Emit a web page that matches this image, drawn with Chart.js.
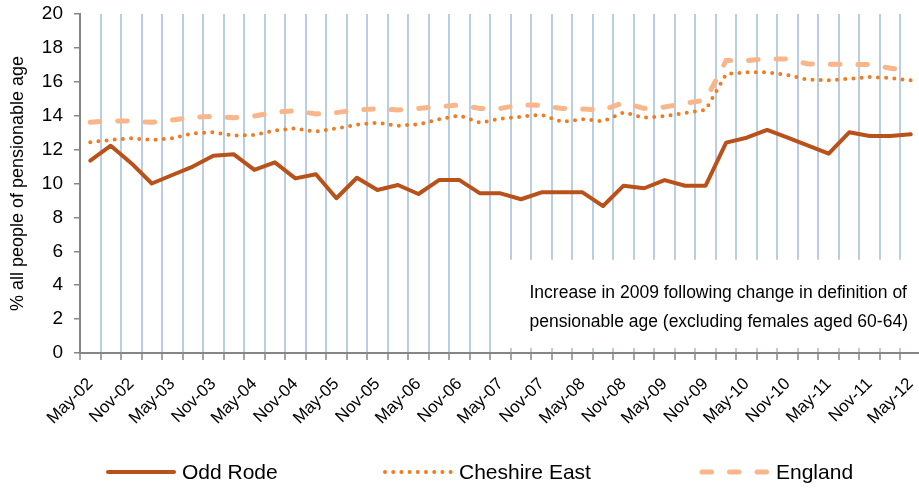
<!DOCTYPE html>
<html>
<head>
<meta charset="utf-8">
<title>Pensionable age – Odd Rode, Cheshire East, England</title>
<script src="https://cdn.jsdelivr.net/npm/chart.js@4/dist/chart.umd.min.js"></script>
<style>
  html, body { margin: 0; padding: 0; background: #fff; overflow: hidden; }
  #wrap { width: 929px; height: 488px; }
</style>
</head>
<body>
<div id="wrap"><canvas id="chart" width="929" height="488"></canvas></div>
<script>
// Quarterly series, May-02 .. May-12. Only every other category gets a
// visible tick label (May / Nov), like the source spreadsheet chart.
const QUARTERS = [
  "May-02", "Aug-02", "Nov-02", "Feb-03", "May-03", "Aug-03", "Nov-03", "Feb-04",
  "May-04", "Aug-04", "Nov-04", "Feb-05", "May-05", "Aug-05", "Nov-05", "Feb-06",
  "May-06", "Aug-06", "Nov-06", "Feb-07", "May-07", "Aug-07", "Nov-07", "Feb-08",
  "May-08", "Aug-08", "Nov-08", "Feb-09", "May-09", "Aug-09", "Nov-09", "Feb-10",
  "May-10", "Aug-10", "Nov-10", "Feb-11", "May-11", "Aug-11", "Nov-11", "Feb-12",
  "May-12",
];

const ODD_RODE = [
  11.35, 12.23, 11.2, 10.0, 10.5, 11.0, 11.64, 11.72, 10.8, 11.25,
  10.3, 10.55, 9.13, 10.34, 9.62, 9.91, 9.38, 10.2, 10.2, 9.42,
  9.42, 9.07, 9.48, 9.48, 9.48, 8.67, 9.87, 9.72, 10.2, 9.87,
  9.87, 12.41, 12.7, 13.16, 12.7, 12.23, 11.76, 13.02, 12.8, 12.8,
  12.9,
];

const CHESHIRE_EAST = [
  12.43, 12.57, 12.67, 12.57, 12.67, 12.96, 13.02, 12.82, 12.86, 13.12,
  13.25, 13.06, 13.25, 13.47, 13.59, 13.41, 13.49, 13.79, 14.02, 13.59,
  13.82, 13.94, 14.06, 13.63, 13.8, 13.67, 14.2, 13.88, 13.98, 14.16,
  14.34, 16.46, 16.56, 16.56, 16.4, 16.12, 16.09, 16.18, 16.28, 16.22,
  16.09,
];

const ENGLAND = [
  13.61, 13.7, 13.68, 13.61, 13.75, 13.9, 13.96, 13.88, 13.98, 14.2,
  14.3, 14.1, 14.18, 14.34, 14.41, 14.34, 14.43, 14.53, 14.63, 14.43,
  14.43, 14.65, 14.6, 14.43, 14.39, 14.33, 14.77, 14.43, 14.51, 14.73,
  14.93, 17.25, 17.25, 17.36, 17.34, 17.05, 17.03, 17.03, 17.02, 16.8,
  16.66,
];

const Y_TICKS = [0, 2, 4, 6, 8, 10, 12, 14, 16, 18, 20];

const NOTE_LINES = [
  "Increase in 2009 following change in definition of",
  "pensionable age (excluding females aged 60-64)",
];

(function () {
  "use strict";

  const FONT = "'Liberation Sans', Arial, sans-serif";
  const AXIS_GREY = "#868686";
  const GRID_BLUE = "#B9CDE5";

  Chart.defaults.font.family = FONT;
  Chart.defaults.color = "#000";

  // noteBox blanks out the lower-right of the plot (hiding the gridlines
  // there) and writes the two-line footnote. Runs before datasets draw so
  // the series stay on top.
  const noteBox = {
    id: "noteBox",
    beforeDatasetsDraw(chart) {
      const { ctx, chartArea } = chart;
      const x = chart.scales.x;
      const y = chart.scales.y;
      const left = x.getPixelForValue(20);
      const top = y.getPixelForValue(5.5);
      const bottom = y.getPixelForValue(0.3);
      ctx.save();
      ctx.fillStyle = "#fff";
      ctx.fillRect(left, top, chartArea.right + 2 - left, bottom - top);
      ctx.fillStyle = "#000";
      ctx.font = "17.5px " + FONT;
      ctx.textBaseline = "middle";
      ctx.textAlign = "left";
      ctx.fillText(NOTE_LINES[0], left + 29, top + 33);
      ctx.fillText(NOTE_LINES[1], left + 29, top + 62);
      ctx.restore();
    },
  };

  // lineLegend draws the bottom legend with long line samples (Excel
  // style) using each dataset's own stroke settings.
  const LEGEND_X = [106, 383, 700];
  const lineLegend = {
    id: "lineLegend",
    afterDraw(chart) {
      const ctx = chart.ctx;
      const yMid = 472;
      ctx.save();
      chart.data.datasets.forEach((ds, i) => {
        const x0 = LEGEND_X[i];
        ctx.beginPath();
        ctx.strokeStyle = ds.borderColor;
        ctx.lineWidth = ds.borderWidth;
        ctx.lineCap = ds.borderCapStyle || "butt";
        ctx.setLineDash(ds.borderDash || []);
        ctx.moveTo(x0 + 2, yMid);
        ctx.lineTo(x0 + 68, yMid);
        ctx.stroke();
        ctx.setLineDash([]);
        ctx.fillStyle = "#000";
        ctx.font = "21px " + FONT;
        ctx.textBaseline = "middle";
        ctx.textAlign = "left";
        ctx.fillText(ds.label, x0 + 76, yMid + 1);
      });
      ctx.restore();
    },
  };

  new Chart(document.getElementById("chart"), {
    type: "line",
    data: {
      labels: QUARTERS,
      datasets: [
        {
          label: "Odd Rode",
          data: ODD_RODE,
          borderColor: "#B9511B",
          borderWidth: 4,
          borderCapStyle: "round",
          borderJoinStyle: "round",
          pointRadius: 0,
          tension: 0,
        },
        {
          label: "Cheshire East",
          data: CHESHIRE_EAST,
          borderColor: "#F07B22",
          borderWidth: 4,
          borderDash: [0, 8.2],
          borderCapStyle: "round",
          pointRadius: 0,
          tension: 0,
        },
        {
          label: "England",
          data: ENGLAND,
          borderColor: "#F9B68A",
          borderWidth: 5,
          borderDash: [9.5, 18],
          borderCapStyle: "round",
          pointRadius: 0,
          tension: 0,
        },
      ],
    },
    options: {
      responsive: false,
      devicePixelRatio: 1,
      animation: false,
      layout: { padding: { top: 14, right: 8, bottom: 0, left: 0 } },
      plugins: {
        legend: { display: false },
        tooltip: { enabled: false },
      },
      scales: {
        x: {
          type: "category",
          offset: true,
          grid: {
            offset: true,
            color: GRID_BLUE,
            lineWidth: 2,
            drawTicks: true,
            tickLength: 7,
            tickColor: AXIS_GREY,
            tickWidth: 1.5,
          },
          border: { color: AXIS_GREY, width: 2 },
          ticks: {
            autoSkip: false,
            minRotation: 45,
            maxRotation: 45,
            padding: 14,
            font: { size: 17 },
            color: "#000",
            callback: function (value, index) {
              return index % 2 === 0 ? this.getLabelForValue(value) : "";
            },
          },
          // fixed band height; drop the auto side padding Chart.js reserves
          // for the rotated end labels so the plot runs to the right edge
          afterFit(scale) {
            scale.height = 135;
            scale.paddingLeft = 0;
            scale.paddingRight = 0;
          },
        },
        y: {
          min: 0,
          max: 20,
          afterBuildTicks(scale) {
            scale.ticks = Y_TICKS.map((v) => ({ value: v }));
          },
          grid: {
            drawOnChartArea: false,
            drawTicks: true,
            tickLength: 6,
            color: AXIS_GREY,
            lineWidth: 1.5,
          },
          border: { color: AXIS_GREY, width: 2 },
          ticks: {
            padding: 11,
            font: { size: 19 },
            color: "#000",
          },
          title: {
            display: true,
            text: "% all people of pensionable age",
            font: { size: 18 },
            color: "#000",
            padding: { top: 7, bottom: 0 },
          },
          afterFit(scale) {
            scale.width = 80;
            scale.paddingTop = 0;
            scale.paddingBottom = 0;
          },
        },
      },
    },
    plugins: [noteBox, lineLegend],
  });
})();
</script>
</body>
</html>
